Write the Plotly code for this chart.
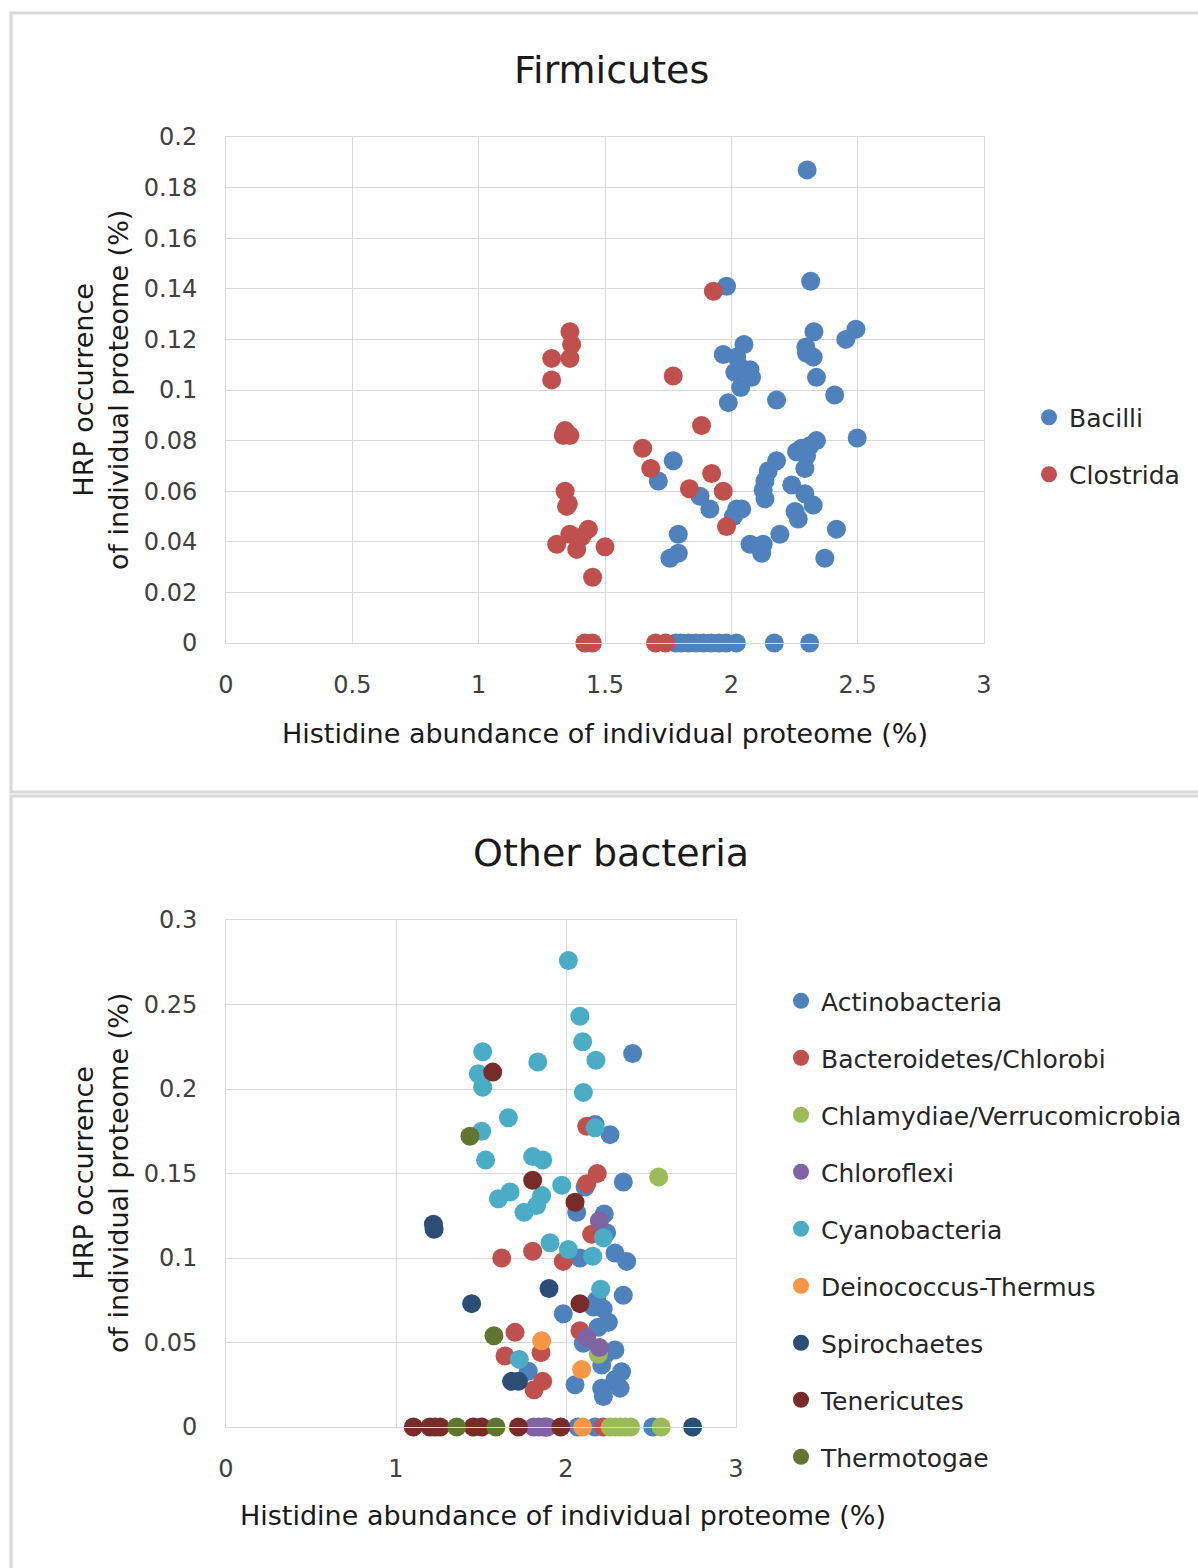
import plotly.graph_objects as go

# ---------------- data: Firmicutes ----------------
bacilli_x = [2.300, 2.314, 1.981, 2.327, 2.493, 2.453, 2.295, 2.324, 2.298, 2.050, 1.968, 2.021, 2.034,
             2.074, 2.014, 2.080, 2.037, 2.337, 2.409, 2.179, 1.988, 2.498, 2.337, 2.311, 2.278, 2.298,
             2.258, 2.291, 2.179, 1.770, 2.146, 2.133, 2.126, 2.133, 2.239, 2.291, 2.324, 2.252, 2.265,
             1.711, 1.876, 1.915, 2.021, 2.041, 2.008, 2.416, 2.192, 1.790, 2.074, 2.126, 2.120, 1.790,
             1.757, 2.370,
             1.78, 1.80, 1.83, 1.86, 1.89, 1.92, 1.95, 1.98, 2.02, 2.17, 2.31]
bacilli_y = [0.187, 0.143, 0.141, 0.123, 0.124, 0.120, 0.117, 0.113, 0.1145, 0.118, 0.114, 0.113, 0.109,
             0.108, 0.107, 0.105, 0.101, 0.105, 0.098, 0.096, 0.095, 0.081, 0.080, 0.078, 0.077, 0.074,
             0.0756, 0.069, 0.072, 0.072, 0.068, 0.064, 0.0605, 0.057, 0.0625, 0.059, 0.0545, 0.052, 0.049,
             0.064, 0.058, 0.053, 0.053, 0.053, 0.050, 0.045, 0.043, 0.043, 0.039, 0.039, 0.0355, 0.0355,
             0.0335, 0.0335,
             0, 0, 0, 0, 0, 0, 0, 0, 0, 0, 0]

clostrida_x = [1.929, 1.361, 1.368, 1.361, 1.289, 1.289, 1.770, 1.882, 1.342, 1.335, 1.361, 1.649, 1.681,
               1.922, 1.834, 1.968, 1.342, 1.348, 1.355, 1.981, 1.434, 1.361, 1.309, 1.388, 1.408, 1.500,
               1.451,
               1.42, 1.45, 1.70, 1.74]
clostrida_y = [0.139, 0.123, 0.118, 0.1125, 0.1125, 0.104, 0.1055, 0.086, 0.084, 0.082, 0.082, 0.077, 0.069,
               0.067, 0.061, 0.060, 0.060, 0.054, 0.055, 0.046, 0.045, 0.043, 0.039, 0.037, 0.042, 0.038,
               0.026,
               0, 0, 0, 0]

# ---------------- data: Other bacteria ----------------
actino_x = [2.392, 2.171, 2.259, 2.337, 2.112, 2.225, 2.063, 2.239, 2.288, 2.357, 2.082, 2.337, 2.18,
            2.219, 2.161, 1.984, 2.249, 2.19, 2.102, 2.288, 2.229, 2.21, 2.327, 2.288, 2.053, 2.318,
            2.21, 2.22, 1.778,
            1.88, 2.07, 2.17, 2.51]
actino_y = [0.221, 0.179, 0.173, 0.145, 0.142, 0.126, 0.127, 0.115, 0.103, 0.098, 0.100, 0.078, 0.075,
            0.070, 0.071, 0.067, 0.062, 0.059, 0.0495, 0.0456, 0.0426, 0.0367, 0.0327, 0.028, 0.025, 0.023,
            0.023, 0.018, 0.033,
            0, 0, 0, 0]

bactero_x = [2.122, 2.184, 2.122, 2.151, 1.622, 1.804, 1.984, 1.700, 2.082, 1.641, 1.853, 1.863, 1.812,
             2.22]
bactero_y = [0.178, 0.150, 0.144, 0.114, 0.100, 0.104, 0.098, 0.056, 0.057, 0.042, 0.044, 0.027, 0.022,
             0]

chlamy_x = [2.545, 2.19, 2.26, 2.29, 2.32, 2.35, 2.38, 2.56]
chlamy_y = [0.148, 0.043, 0, 0, 0, 0, 0, 0]

chloro_x = [2.196, 2.122, 2.196, 1.81, 1.84, 1.87, 1.89]
chloro_y = [0.122, 0.053, 0.047, 0, 0, 0, 0]

cyano_x = [2.014, 2.082, 2.098, 2.176, 1.510, 1.484, 1.510, 1.834, 2.102, 1.661, 1.504, 2.171, 1.527,
           1.804, 1.863, 1.975, 1.857, 1.671, 1.602, 1.827, 1.753, 2.22, 1.906, 2.014, 2.157, 2.204,
           1.725]
cyano_y = [0.276, 0.243, 0.228, 0.217, 0.222, 0.209, 0.201, 0.216, 0.198, 0.183, 0.175, 0.177, 0.158,
           0.160, 0.158, 0.143, 0.137, 0.139, 0.135, 0.131, 0.127, 0.112, 0.109, 0.105, 0.101, 0.0815,
           0.040]

deino_x = [1.857, 2.092, 2.098]
deino_y = [0.051, 0.034, 0]

spiro_x = [1.220, 1.224, 1.900, 1.445, 1.680, 1.720, 2.745]
spiro_y = [0.120, 0.117, 0.082, 0.073, 0.027, 0.027, 0]

teneri_x = [1.569, 1.804, 2.053, 2.082, 1.102, 1.20, 1.23, 1.26, 1.455, 1.504, 1.72, 1.969]
teneri_y = [0.210, 0.146, 0.133, 0.073, 0, 0, 0, 0, 0, 0, 0, 0]

thermo_x = [1.435, 1.576, 1.357, 1.588]
thermo_y = [0.172, 0.054, 0, 0]

top_series = [("Bacilli", bacilli_x, bacilli_y, "#4F81BD"),
              ("Clostrida", clostrida_x, clostrida_y, "#C0504D")]
bottom_series = [("Actinobacteria", actino_x, actino_y, "#4F81BD"),
                 ("Bacteroidetes/Chlorobi", bactero_x, bactero_y, "#C0504D"),
                 ("Chlamydiae/Verrucomicrobia", chlamy_x, chlamy_y, "#9BBB59"),
                 ("Chloroflexi", chloro_x, chloro_y, "#8064A2"),
                 ("Cyanobacteria", cyano_x, cyano_y, "#4BACC6"),
                 ("Deinococcus-Thermus", deino_x, deino_y, "#F79646"),
                 ("Spirochaetes", spiro_x, spiro_y, "#2C4D75"),
                 ("Tenericutes", teneri_x, teneri_y, "#772C2A"),
                 ("Thermotogae", thermo_x, thermo_y, "#5F7530")]

W, H = 1198, 1568
FONT = "DejaVu Sans"
GRID = "#d9d9d9"
MSIZE = 19


def px(x):
    return x / W


def py(y):
    return 1 - y / H


fig = go.Figure()
for name, xs, ys, col in top_series:
    fig.add_trace(go.Scatter(x=xs, y=ys, mode="markers", name=name, legend="legend",
                             legendgroup=name, xaxis="x", yaxis="y", cliponaxis=False,
                             marker=dict(size=MSIZE, color=col, line=dict(width=0))))
for name, xs, ys, col in bottom_series:
    fig.add_trace(go.Scatter(x=xs, y=ys, mode="markers", name=name, legend="legend2",
                             legendgroup=name, xaxis="x2", yaxis="y2", cliponaxis=False,
                             marker=dict(size=MSIZE, color=col, line=dict(width=0))))

axis_common = dict(showgrid=True, gridcolor=GRID, gridwidth=1, zeroline=False,
                   showline=True, mirror=True, linecolor=GRID, linewidth=1,
                   ticks="outside", tickcolor="rgba(0,0,0,0)",
                   tickfont=dict(family=FONT, size=24, color="#404040"), automargin=False)

fig.update_layout(
    width=W, height=H, margin=dict(l=0, r=0, t=0, b=0),
    paper_bgcolor="white", plot_bgcolor="white",
    font=dict(family=FONT, color="#1a1a1a"),
    xaxis=dict(domain=[px(226), px(984)], range=[0, 3], dtick=0.5, anchor="y", ticklen=20, **axis_common),
    yaxis=dict(domain=[py(643), py(137)], range=[0, 0.2], dtick=0.02, anchor="x", ticklen=23, **axis_common),
    xaxis2=dict(domain=[px(226), px(736)], range=[0, 3], dtick=1, anchor="y2", ticklen=20, **axis_common),
    yaxis2=dict(domain=[py(1427), py(920)], range=[0, 0.3], dtick=0.05, anchor="x2", ticklen=23, **axis_common),
    legend=dict(x=px(1029), y=py(446), xanchor="left", yanchor="middle", tracegroupgap=21.5,
                font=dict(family=FONT, size=25, color="#262626"), bgcolor="rgba(0,0,0,0)"),
    legend2=dict(x=px(781), y=py(1229), xanchor="left", yanchor="middle", tracegroupgap=21.5,
                 font=dict(family=FONT, size=25, color="#262626"), bgcolor="rgba(0,0,0,0)"),
    showlegend=True,
)

annots = [
    dict(text="Firmicutes", x=px(611), y=py(70), size=38),
    dict(text="Other bacteria", x=px(611), y=py(853), size=38),
    dict(text="Histidine abundance of individual proteome (%)", x=px(605), y=py(733), size=27),
    dict(text="Histidine abundance of individual proteome (%)", x=px(563), y=py(1515), size=27),
]
for a in annots:
    fig.add_annotation(text=a["text"], x=a["x"], y=a["y"], xref="paper", yref="paper",
                       xanchor="center", yanchor="middle", showarrow=False,
                       font=dict(family=FONT, size=a["size"], color="#1a1a1a"))
for ycen in (390, 1173):
    fig.add_annotation(text="HRP occurrence<br>of individual proteome (%)", x=px(101), y=py(ycen),
                       xref="paper", yref="paper", xanchor="center", yanchor="middle",
                       showarrow=False, textangle=-90,
                       font=dict(family=FONT, size=27, color="#1a1a1a"))

# panel borders
fig.add_shape(type="rect", xref="paper", yref="paper", x0=px(11), x1=px(1215), y0=py(792), y1=py(13),
              line=dict(color=GRID, width=3), layer="below")
fig.add_shape(type="rect", xref="paper", yref="paper", x0=px(11), x1=px(1215), y0=py(1590), y1=py(796),
              line=dict(color=GRID, width=3), layer="below")

fig.write_html("out.html", config={"displayModeBar": False},
               post_script="document.body.style.margin='0';document.body.style.overflow='hidden';")
